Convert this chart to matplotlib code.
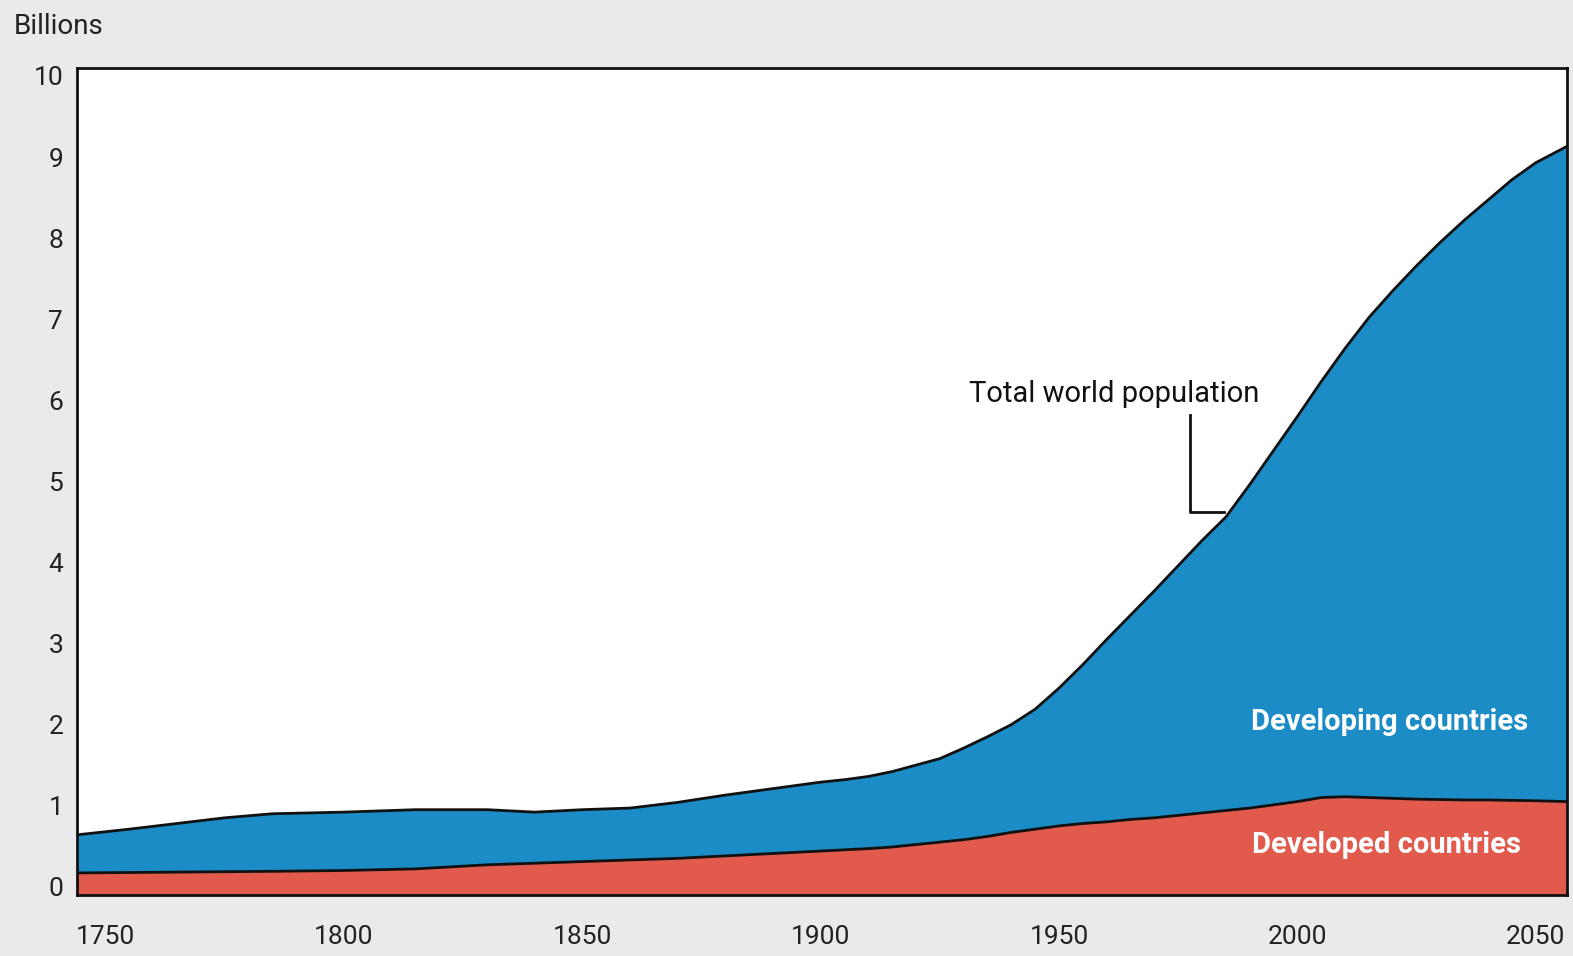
import matplotlib
matplotlib.use("Agg")
import matplotlib.pyplot as plt

years = [1744, 1755, 1765, 1775, 1785, 1800, 1815, 1830, 1840, 1850, 1860, 1870,
         1880, 1890, 1900, 1905, 1910, 1915, 1920, 1925, 1930, 1935, 1940, 1945,
         1950, 1955, 1960, 1965, 1970, 1975, 1980, 1985, 1990, 1995, 2000, 2005,
         2010, 2015, 2020, 2025, 2030, 2035, 2040, 2045, 2050, 2056.5]
total = [0.64, 0.71, 0.78, 0.85, 0.90, 0.92, 0.95, 0.95, 0.92, 0.95, 0.97, 1.04,
         1.13, 1.21, 1.29, 1.32, 1.36, 1.42, 1.50, 1.58, 1.71, 1.85, 2.00, 2.19,
         2.45, 2.74, 3.05, 3.35, 3.65, 3.96, 4.27, 4.56, 4.96, 5.38, 5.80, 6.23,
         6.64, 7.02, 7.35, 7.66, 7.95, 8.22, 8.47, 8.72, 8.93, 9.13]
developed = [0.17, 0.175, 0.18, 0.185, 0.19, 0.20, 0.22, 0.27, 0.29, 0.31, 0.33, 0.35,
             0.38, 0.41, 0.44, 0.455, 0.47, 0.49, 0.52, 0.55, 0.58, 0.62, 0.67, 0.71,
             0.75, 0.78, 0.80, 0.83, 0.85, 0.88, 0.91, 0.94, 0.97, 1.01, 1.05, 1.10,
             1.11, 1.10, 1.09, 1.08, 1.075, 1.07, 1.07, 1.065, 1.06, 1.05]
xticks = [1750, 1800, 1850, 1900, 1950, 2000, 2050]
yticks = list(range(0, 11))

BLUE = "#1b8cc6"
RED = "#e15a4c"
BG = "#e9eae9"
YMIN, YMAX = -0.1, 10.1

plt.rcParams['font.family'] = ['Roboto', 'DejaVu Sans']

fig = plt.figure(figsize=(15.73, 9.56), dpi=100, facecolor=BG)
ax = fig.add_axes([0.049, 0.064, 0.947, 0.865])
ax.set_facecolor("white")

ax.fill_between(years, YMIN, developed, color=RED, linewidth=0)
ax.fill_between(years, developed, total, color=BLUE, linewidth=0)
ax.plot(years, developed, color="#111111", lw=2)
ax.plot(years, total, color="#111111", lw=2)

ax.set_xlim(years[0], years[-1])
ax.set_ylim(YMIN, YMAX)
ax.set_xticks(xticks)
ax.set_yticks(yticks)
ax.tick_params(length=0, labelsize=19, colors="#222222")
ax.tick_params(axis="x", pad=22)
ax.tick_params(axis="y", pad=10)
for s in ax.spines.values():
    s.set_linewidth(2)
    s.set_color("#111111")

fig.text(0.009, 0.972, "Billions", fontsize=20, color="#222222", va="center", ha="left")

ax.text(1961.5, 6.08, "Total world population", fontsize=21, color="#111111",
        ha="center", va="center")
ax.plot([1977.4, 1977.4, 1984.6], [5.82, 4.62, 4.62], color="#111111", lw=2)

ax.text(2019.3, 2.03, "Developing countries", fontsize=21, color="white",
        fontweight="bold", ha="center", va="center")
ax.text(2018.6, 0.52, "Developed countries", fontsize=21, color="white",
        fontweight="bold", ha="center", va="center")

fig.savefig("out.png", dpi=100, facecolor=BG)
